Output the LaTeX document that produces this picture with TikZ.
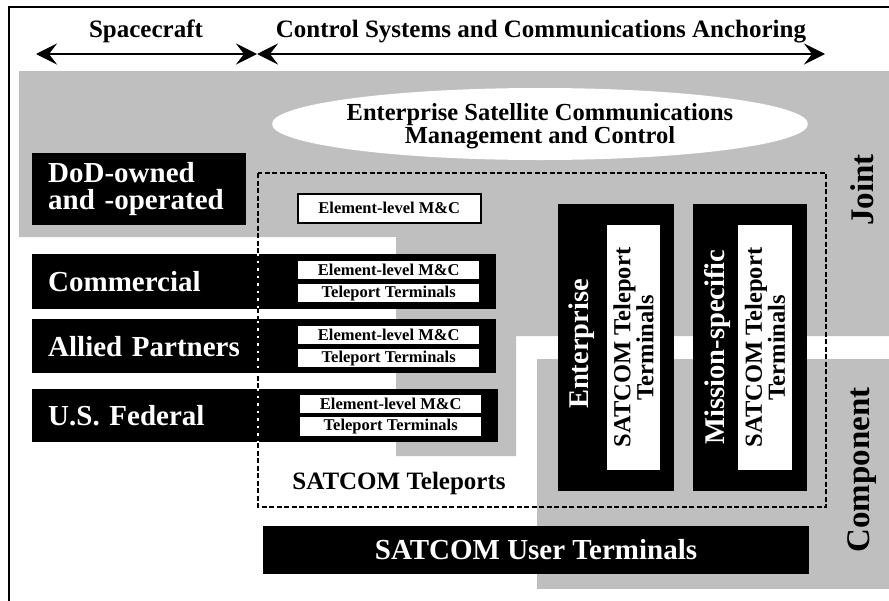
\documentclass[tikz,border=0pt]{standalone}
\usepackage{fontspec}
\setmainfont{Liberation Serif}
\usetikzlibrary{arrows.meta}
\definecolor{bandgray}{RGB}{191,191,191}

\begin{document}
\begin{tikzpicture}[yscale=-1,x=1pt,y=1pt,
    hdtext/.style={anchor=base,inner sep=0pt,font=\fontsize{25}{25}\selectfont\bfseries},
    hdarrow/.style={line width=2.5pt,{Stealth[length=21pt,width=21pt,inset=8pt]}-{Stealth[length=21pt,width=21pt,inset=8pt]}},
    labelbox/.style={fill=black,text=white,anchor=north west,align=left,inner xsep=16pt,inner ysep=0pt,font=\fontsize{29}{27}\selectfont\bfseries},
    tpbox/.style={fill=black,anchor=north west,inner sep=0pt},
    mcbox/.style={fill=white,anchor=north west,inner sep=0pt,minimum width=181pt,minimum height=18pt,font=\fontsize{16.5}{16}\selectfont\bfseries},
    vbox/.style={fill=black,inner sep=0pt,minimum height=287pt},
    vinner/.style={fill=white,rotate=90,inner sep=0pt,minimum width=245pt,align=center,font=\fontsize{24.5}{22}\selectfont\bfseries},
    vlabel/.style={text=white,rotate=90,inner sep=0pt,font=\fontsize{28.5}{28}\selectfont\bfseries},
    sidelabel/.style={rotate=90,inner sep=0pt,font=\fontsize{33}{33}\selectfont\bfseries}]

    \useasboundingbox (0,0) rectangle (889,600);

    % joint and component bands
    \fill[bandgray] (19,71) -- (889,71) -- (889,336) -- (516,336) -- (516,456) -- (396,456) -- (396,237) -- (19,237) -- cycle;
    \fill[bandgray] (537,359) rectangle (889,589);
    \draw[line width=2pt] (9,601) -- (9,7) -- (890,7);

    % headers
    \node[hdtext] (spacecraft) at (146,37) {Spacecraft};
    \node[hdtext] (anchoring) at (541,37) {Control Systems and Communications Anchoring};
    \coordinate (scleft) at (36,54);
    \coordinate (split) at (257,54);
    \coordinate (caright) at (825,54);
    \draw[hdarrow] (scleft) -- (split);
    \draw[hdarrow] (split) -- (caright);

    \fill[white] (540,124) ellipse [x radius=268pt, y radius=36pt];
    \node[align=center,inner sep=0pt,font=\fontsize{24.5}{23}\selectfont\bfseries] (esc) at (540,126) {Enterprise Satellite Communications\\Management and Control};

    % providers
    \node[labelbox,text width=182pt,minimum height=72pt] (dod) at (32,153) {DoD-owned\\and -operated};
    \node[mcbox,draw=black,line width=1.5pt,minimum width=183pt,minimum height=29pt] (dodmc) at (297,193) {Element-level M\&C};

    \node[labelbox,text width=193pt,minimum height=55pt] (commercial) at (32,254) {Commercial};
    \node[tpbox,minimum width=237pt,minimum height=55pt] (commercialtp) at (259,254) {};
    \node[mcbox] (commercialmc) at (298,261) {Element-level M\&C};
    \node[mcbox] (commercialtt) at (298,284) {Teleport Terminals};

    \node[labelbox,text width=193pt,minimum height=54pt] (allied) at (32,319) {Allied Partners};
    \node[tpbox,minimum width=237pt,minimum height=54pt] (alliedtp) at (259,319) {};
    \node[mcbox] (alliedmc) at (298,326) {Element-level M\&C};
    \node[mcbox] (alliedtt) at (298,349) {Teleport Terminals};

    \node[labelbox,text width=193pt,minimum height=53pt] (federal) at (32,389) {U.S. Federal};
    \node[tpbox,minimum width=239pt,minimum height=53pt] (federaltp) at (259,389) {};
    \node[mcbox] (federalmc) at (300,395) {Element-level M\&C};
    \node[mcbox,minimum height=19pt] (federaltt) at (300,417) {Teleport Terminals};

    % teleport terminals
    \node[vbox,minimum width=116pt] (ent) at (616,347.5) {};
    \node[vinner,minimum height=53pt] (entterm) at (633.5,347.5) {SATCOM Teleport\\Terminals};
    \node[vlabel] (entlabel) at (582,344) {Enterprise};
    \node[vbox,minimum width=114pt] (mis) at (750,347.5) {};
    \node[vinner,minimum height=54pt] (misterm) at (765,347.5) {SATCOM Teleport\\Terminals};
    \node[vlabel] (mislabel) at (717,347) {Mission-specific};

    \draw[line width=1.5pt,dash pattern=on 5pt off 2.5pt] (258,173) rectangle (826,507);
    \node[hdtext] (teleports) at (399,489) {SATCOM Teleports};

    \node[fill=black,text=white,minimum width=546pt,minimum height=48pt,inner sep=0pt,font=\fontsize{29}{29}\selectfont\bfseries] (user) at (536,550) {SATCOM User Terminals};

    \node[sidelabel] (joint) at (862,190) {Joint};
    \node[sidelabel] (component) at (862,470) {Component};
\end{tikzpicture}
\end{document}
